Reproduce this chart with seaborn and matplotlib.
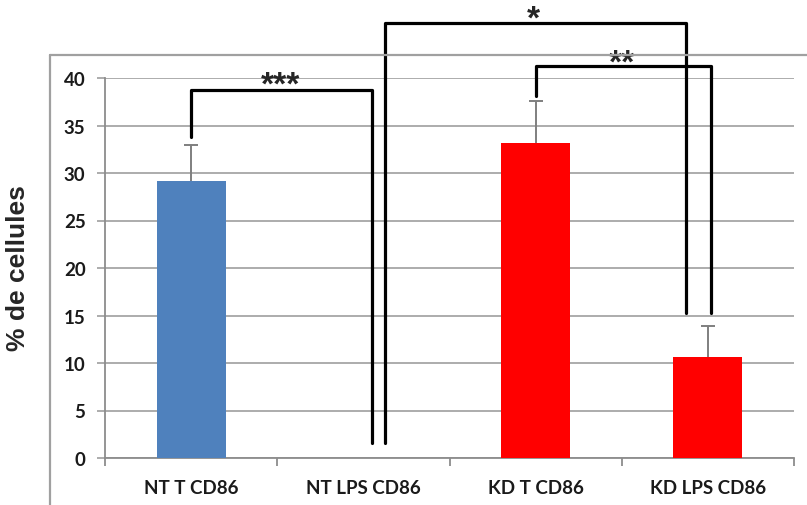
import numpy as np
import pandas as pd
import matplotlib
matplotlib.use("Agg")
import matplotlib.pyplot as plt
from matplotlib.lines import Line2D
import seaborn as sns

# ---- data ----
categories = ["NT T CD86", "NT LPS CD86", "KD T CD86", "KD LPS CD86"]
values = [29.2, 0.0, 33.2, 10.6]
errors = [3.7, np.nan, 4.4, 3.3]
bar_colors = ["#4F81BD", "#4F81BD", "#FF0000", "#FF0000"]
y_ticks = [0, 5, 10, 15, 20, 25, 30, 35, 40]
y_label = "% de cellules"
# significance brackets: (x_left, y_left_bottom, x_right, y_right_bottom, y_top, label, x_label, y_label)
brackets = [
    (0.0, 33.8, 1.05, 1.6, 38.7, "***", 0.52, 38.4),
    (1.126, 1.6, 2.873, 15.3, 45.8, "*", 1.99, 45.3),
    (2.0, 38.1, 3.018, 15.3, 41.3, "**", 2.5, 40.7),
]

sns.set_style("white")
plt.rcParams["font.family"] = ["Lato", "DejaVu Sans"]

W, H = 807, 506
fig = plt.figure(figsize=(W / 100, H / 100), dpi=100)
ax = fig.add_axes([105 / W, 1 - 459 / H, (794 - 105) / W, (459 - 79) / H])

df = pd.DataFrame({"cat": categories, "val": values})
sns.barplot(data=df, x="cat", y="val", hue="cat", palette=bar_colors,
            width=0.4, errorbar=None, legend=False, ax=ax, zorder=3,
            saturation=1, linewidth=0, edgecolor="none")

# error bars (upper only)
xs = np.arange(len(categories))
eb = ax.errorbar(xs, values, yerr=[np.zeros(len(errors)), errors], fmt="none",
                 ecolor="#7f7f7f", elinewidth=1.4, capsize=5, capthick=1.4,
                 zorder=4)
for cl in eb[1]:
    cl.set_color("#202020")
if len(eb[1]) == 2:
    eb[1][0].set_visible(False)

ax.set_xlim(-0.5, 3.5)
ax.set_ylim(0, 40)
ax.set_yticks(y_ticks)
ax.set_yticklabels([str(t) for t in y_ticks])
ax.yaxis.grid(True, color="#a6a6a6", linewidth=1.3, zorder=0)
ax.set_axisbelow(True)
ax.xaxis.grid(False)
ax.set_xlabel("")
ax.set_ylabel("")

for s in ["top", "right"]:
    ax.spines[s].set_visible(False)
for s in ["left", "bottom"]:
    ax.spines[s].set_color("#8c8c8c")
    ax.spines[s].set_linewidth(1.3)

ax.tick_params(axis="y", which="major", length=6, width=1.3, color="#a6a6a6",
               pad=8, labelsize=13.5, labelcolor="#1a1a1a", left=True)
ax.set_xticks(xs)
ax.set_xticklabels(categories)
ax.set_xticks(np.arange(-0.5, 3.6, 1.0), minor=True)
ax.tick_params(axis="x", which="major", length=0, pad=15, labelsize=13.5,
               labelcolor="#1a1a1a")
ax.tick_params(axis="x", which="minor", length=6, width=1.3, color="#8c8c8c",
               bottom=True)
for lab in ax.get_yticklabels() + ax.get_xticklabels():
    lab.set_fontweight("bold")

# significance brackets
for (xl, yl, xr, yr, yt, lab, xlab, ylab) in brackets:
    ax.plot([xl, xl, xr, xr], [yl, yt, yt, yr], color="black", linewidth=2.3,
            clip_on=False, zorder=6, solid_joinstyle="round")
    ax.text(xlab, ylab, lab, ha="center", va="baseline", fontsize=24,
            fontweight="bold", family="Liberation Sans", clip_on=False,
            zorder=7)

# y label
fig.text(18 / W, 1 - 268 / H, y_label, rotation=90, ha="center", va="center",
         fontsize=19, fontweight="bold", family="Liberation Sans")

# outer frame (chart area border)
fig.add_artist(Line2D([50 / W, 50 / W], [0, 1 - 56 / H], transform=fig.transFigure,
                      color="#a0a0a0", linewidth=1.6))
fig.add_artist(Line2D([50 / W, 1], [1 - 56 / H, 1 - 56 / H], transform=fig.transFigure,
                      color="#a0a0a0", linewidth=1.6))

fig.savefig("out.png", dpi=100)
